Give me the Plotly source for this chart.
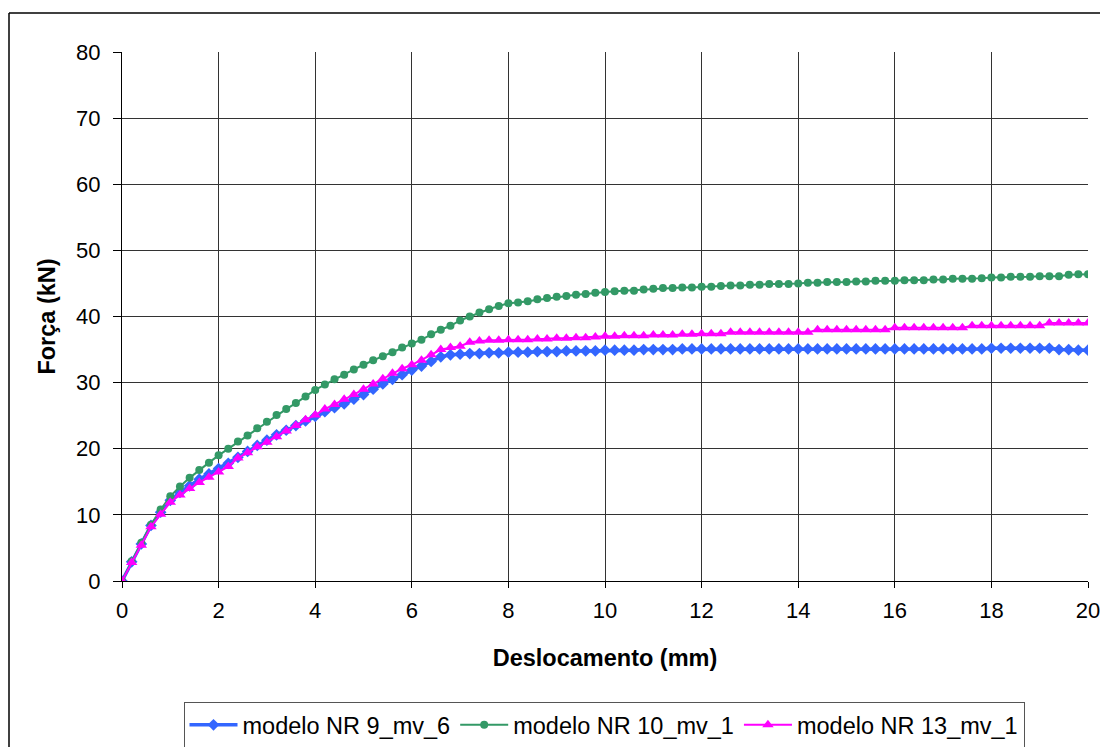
import plotly.graph_objects as go

# ---- data ----
desloc = [0.0, 0.2, 0.4, 0.6, 0.8, 1.0, 1.2, 1.4, 1.6, 1.8,
          2.0, 2.2, 2.4, 2.6, 2.8, 3.0, 3.2, 3.4, 3.6, 3.8,
          4.0, 4.2, 4.4, 4.6, 4.8, 5.0, 5.2, 5.4, 5.6, 5.8,
          6.0, 6.2, 6.4, 6.6, 6.8, 7.0, 7.2, 7.4, 7.6, 7.8,
          8.0, 8.2, 8.4, 8.6, 8.8, 9.0, 9.2, 9.4, 9.6, 9.8,
          10.0, 10.2, 10.4, 10.6, 10.8, 11.0, 11.2, 11.4, 11.6, 11.8,
          12.0, 12.2, 12.4, 12.6, 12.8, 13.0, 13.2, 13.4, 13.6, 13.8,
          14.0, 14.2, 14.4, 14.6, 14.8, 15.0, 15.2, 15.4, 15.6, 15.8,
          16.0, 16.2, 16.4, 16.6, 16.8, 17.0, 17.2, 17.4, 17.6, 17.8,
          18.0, 18.2, 18.4, 18.6, 18.8, 19.0, 19.2, 19.4, 19.6, 19.8,
          20.0]

forca_nr9 = [0.0, 2.9, 5.6, 8.4, 10.4, 12.2, 13.4, 14.4, 15.4, 16.2,
             17.0, 17.8, 18.7, 19.6, 20.5, 21.3, 22.1, 22.8, 23.5, 24.2,
             24.9, 25.6, 26.2, 26.8, 27.5, 28.2, 29.0, 29.8, 30.5, 31.2,
             31.9, 32.5, 33.2, 33.9, 34.2, 34.3, 34.4, 34.4, 34.5, 34.5,
             34.6, 34.6, 34.6, 34.7, 34.7, 34.7, 34.8, 34.8, 34.8, 34.8,
             34.9, 34.9, 34.9, 34.9, 35.0, 35.0, 35.0, 35.0, 35.1, 35.1,
             35.1, 35.1, 35.1, 35.1, 35.1, 35.1, 35.1, 35.1, 35.1, 35.1,
             35.1, 35.1, 35.1, 35.1, 35.1, 35.1, 35.1, 35.1, 35.1, 35.1,
             35.1, 35.1, 35.1, 35.1, 35.1, 35.1, 35.1, 35.1, 35.1, 35.1,
             35.2, 35.2, 35.2, 35.2, 35.2, 35.2, 35.2, 35.0, 35.0, 34.9,
             34.9]

forca_nr10 = [0.0, 3.0, 5.8, 8.5, 10.8, 12.8, 14.3, 15.6, 16.8, 17.9,
              19.0, 20.0, 21.1, 22.0, 23.1, 24.1, 25.1, 26.0, 26.9, 27.9,
              28.9, 29.7, 30.5, 31.2, 32.0, 32.7, 33.4, 34.0, 34.6, 35.3,
              35.9, 36.5, 37.3, 38.0, 38.6, 39.4, 40.0, 40.6, 41.1, 41.6,
              42.0, 42.1, 42.3, 42.6, 42.8, 43.0, 43.1, 43.3, 43.4, 43.6,
              43.7, 43.8, 43.9, 43.9, 44.1, 44.2, 44.3, 44.3, 44.4, 44.4,
              44.5, 44.5, 44.6, 44.7, 44.7, 44.8, 44.8, 44.9, 44.9, 44.9,
              45.0, 45.1, 45.1, 45.2, 45.2, 45.2, 45.3, 45.3, 45.4, 45.4,
              45.4, 45.5, 45.5, 45.5, 45.6, 45.6, 45.7, 45.7, 45.7, 45.8,
              45.9, 45.9, 46.0, 46.0, 46.0, 46.1, 46.1, 46.1, 46.3, 46.4,
              46.4]

forca_nr13 = [0.0, 2.8, 5.4, 8.2, 10.1, 11.9, 13.0, 14.0, 14.9, 15.7,
              16.5, 17.3, 18.6, 19.4, 20.3, 21.0, 21.8, 22.7, 23.5, 24.4,
              25.1, 26.0, 26.7, 27.5, 28.2, 29.0, 29.8, 30.6, 31.4, 32.1,
              32.7, 33.4, 34.2, 35.0, 35.3, 35.5, 36.1, 36.3, 36.4, 36.4,
              36.5, 36.5, 36.5, 36.6, 36.6, 36.7, 36.7, 36.8, 36.8, 36.9,
              37.0, 37.0, 37.1, 37.1, 37.1, 37.2, 37.2, 37.2, 37.3, 37.3,
              37.4, 37.4, 37.4, 37.6, 37.6, 37.6, 37.6, 37.6, 37.6, 37.6,
              37.6, 37.6, 38.0, 38.0, 38.0, 38.0, 38.0, 38.0, 38.0, 38.0,
              38.3, 38.3, 38.3, 38.3, 38.3, 38.3, 38.3, 38.3, 38.6, 38.6,
              38.6, 38.6, 38.6, 38.6, 38.6, 38.6, 39.0, 39.0, 39.0, 39.0,
              39.0]

series_names = ["modelo NR 9_mv_6", "modelo NR 10_mv_1", "modelo NR 13_mv_1"]
x_ticks = [0, 2, 4, 6, 8, 10, 12, 14, 16, 18, 20]
y_ticks = [0, 10, 20, 30, 40, 50, 60, 70, 80]

FONT = "Liberation Sans, Arial, sans-serif"

fig = go.Figure()
fig.add_trace(go.Scatter(
    x=desloc, y=forca_nr9, name=series_names[0], mode="lines+markers",
    line=dict(color="#3366FF", width=3.5),
    marker=dict(symbol="diamond", size=9, color="#3366FF")))
fig.add_trace(go.Scatter(
    x=desloc, y=forca_nr10, name=series_names[1], mode="lines+markers",
    line=dict(color="#339966", width=2),
    marker=dict(symbol="circle", size=8, color="#339966")))
fig.add_trace(go.Scatter(
    x=desloc, y=forca_nr13, name=series_names[2], mode="lines+markers",
    line=dict(color="#FF00FF", width=2),
    marker=dict(symbol="triangle-up", size=10, color="#FF00FF")))

# the page body has an 8px margin, so target pixel positions are shifted by 8
OFF = 8
W, H = 1100, 739
L, R, T, B = 122 - OFF, 20, 52 - OFF, 166
pw, ph = W - L - R, H - T - B


def px_x(p):
    return (p - OFF - L) / pw


def px_y(p):
    return (H - B - (p - OFF)) / ph


fig.update_layout(
    width=W, height=H,
    margin=dict(l=L, r=R, t=T, b=B, autoexpand=False),
    paper_bgcolor="white", plot_bgcolor="white",
    font=dict(family=FONT, size=22, color="black"),
    showlegend=True,
    legend=dict(
        orientation="h", x=px_x(604), xanchor="center", y=px_y(702), yanchor="top",
        bordercolor="#555555", borderwidth=1, bgcolor="white",
        font=dict(family=FONT, size=23.5, color="black"),
        itemwidth=48, tracegroupgap=0, itemsizing="trace",
    ),
    xaxis=dict(
        range=[0, 20], tickvals=x_ticks, ticktext=[str(v) for v in x_ticks],
        showgrid=True, gridcolor="#333333", gridwidth=1,
        showline=True, linecolor="black", linewidth=1.2,
        zeroline=False, ticks="outside", ticklen=6, tickcolor="black",
        ticklabelstandoff=3, tickfont=dict(size=22), automargin=False,
        title=dict(text="<b>Deslocamento (mm)</b>", font=dict(size=23.5), standoff=28),
    ),
    yaxis=dict(
        range=[0, 80], tickvals=y_ticks, ticktext=[str(v) for v in y_ticks],
        showgrid=True, gridcolor="#333333", gridwidth=1,
        showline=True, linecolor="black", linewidth=1.2,
        zeroline=False, ticks="outside", ticklen=8, tickcolor="black",
        ticklabelstandoff=8, tickfont=dict(size=22), automargin=False,
        title=dict(text="<b>Força (kN)</b>", font=dict(size=23.5), standoff=13),
    ),
)

# outer chart-area border (only its top and left edges fall inside the picture)
fig.add_shape(type="line", xref="paper", yref="paper",
              x0=px_x(9), y0=px_y(13), x1=px_x(1130), y1=px_y(13),
              line=dict(color="black", width=1.5))
fig.add_shape(type="line", xref="paper", yref="paper",
              x0=px_x(9), y0=px_y(13), x1=px_x(9), y1=px_y(770),
              line=dict(color="black", width=1.5))

fig.write_html("out.html")
